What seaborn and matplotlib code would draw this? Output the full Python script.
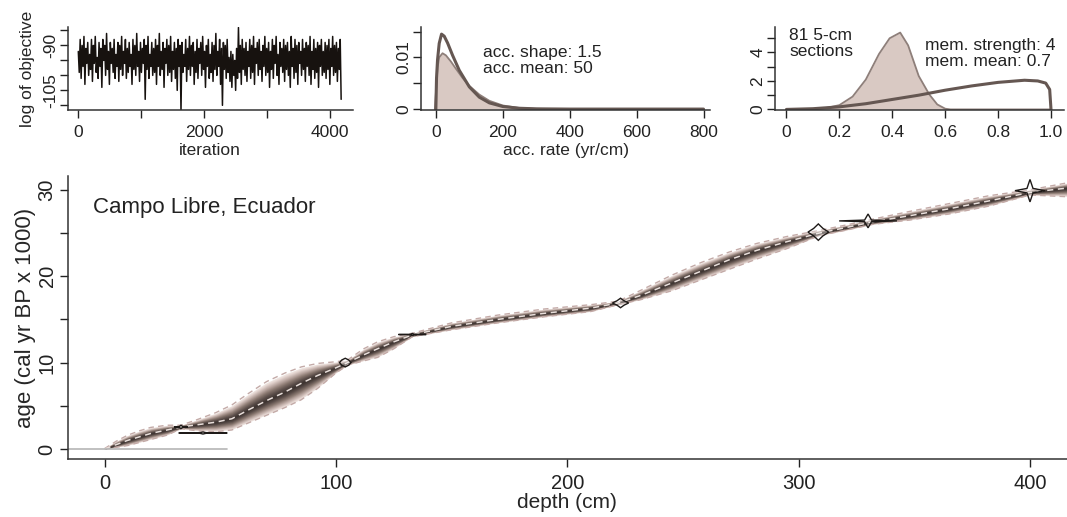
import numpy as np
import pandas as pd
import matplotlib
matplotlib.use("Agg")
import matplotlib.pyplot as plt
from matplotlib.colors import LinearSegmentedColormap
import seaborn as sns

# MCMC trace (log of objective), one value read every 15 iterations
trace_step = 15
trace_vals = [
    -92, -99, -88, -101, -90, -97, -87, -103, -91, -96, -89, -100, -93, -98, -88, -102, -90, -96, -87, -99,
    -94, -101, -89, -97, -91, -104, -88, -95, -90, -100, -86, -98, -92, -103, -89, -96, -91, -99, -88, -101,
    -93, -97, -89, -102, -90, -98, -87, -100, -92, -96, -88, -101, -91, -99, -89, -97, -93, -103, -88, -98,
    -90, -100, -86, -97, -92, -102, -89, -99, -91, -96, -88, -108, -90, -98, -87, -101, -93, -97, -89, -100,
    -91, -99, -88, -103, -90, -97, -86, -100, -92, -98, -89, -104, -91, -96, -88, -100, -90, -99, -87, -102,
    -92, -98, -89, -101, -91, -105, -88, -97, -90, -112, -89, -99, -93, -97, -88, -102, -91, -98, -87, -100,
    -90, -97, -89, -103, -92, -99, -88, -101, -91, -96, -89, -100, -87, -98, -92, -104, -90, -97, -88, -101,
    -93, -99, -89, -102, -90, -98, -86, -100, -92, -97, -88, -103, -91, -110, -89, -98, -90, -101, -88, -99,
    -94, -102, -92, -104, -93, -100, -95, -105, -91, -101, -84, -99, -90, -103, -88, -98, -91, -100, -89, -102,
    -92, -97, -88, -101, -90, -99, -87, -103, -91, -96, -89, -100, -88, -98, -92, -102, -90, -97, -87, -100,
    -91, -99, -89, -104, -92, -98, -88, -101, -90, -96, -87, -100, -93, -103, -89, -97, -91, -99, -88, -102,
    -90, -98, -89, -100, -92, -104, -87, -97, -91, -101, -88, -99, -90, -103, -89, -96, -92, -100, -88, -98,
    -91, -102, -89, -97, -90, -100, -87, -103, -92, -98, -88, -101, -91, -99, -89, -104, -90, -97, -88, -100,
    -92, -99, -89, -101, -90, -98, -88, -103, -91, -97, -87, -100, -90, -99, -89, -102, -91, -98, -88, -108,
]

# accumulation rate: prior (line) and posterior (filled)
acc_x_prior = [0, 2, 5, 10, 17, 25, 35, 50, 70, 100, 130, 160, 200, 250, 300, 400, 600, 800]
acc_prior = [0, 0.0060, 0.0095, 0.0127, 0.0145, 0.0141, 0.0128, 0.0104, 0.0075, 0.0043,
             0.0023, 0.0012, 0.0005, 0.00016, 0.00005, 0, 0, 0]
acc_x_post = [-3, 0, 5, 10, 20, 30, 45, 60, 80, 100, 130, 160, 200, 250, 300, 350]
acc_post = [0, 0.0030, 0.0080, 0.0100, 0.0108, 0.0104, 0.0092, 0.0078, 0.0060, 0.0045,
            0.0028, 0.0016, 0.0007, 0.0002, 0.00005, 0]

# memory: prior (line) and posterior (filled)
mem_x_prior = [0, 0.1, 0.2, 0.3, 0.4, 0.5, 0.6, 0.7, 0.8, 0.9, 0.95, 0.98, 0.995, 1.0]
mem_prior = [0, 0.05, 0.18, 0.4, 0.7, 1.0, 1.35, 1.65, 1.9, 2.05, 2.0, 1.85, 1.4, 0]
mem_x_post = [0.0, 0.1, 0.15, 0.2, 0.25, 0.3, 0.35, 0.39, 0.43, 0.46, 0.5, 0.54, 0.57, 0.6, 0.62, 1.0]
mem_post = [0, 0.02, 0.1, 0.3, 0.9, 2.1, 3.9, 5.0, 5.4, 4.5, 2.35, 1.05, 0.35, 0.05, 0, 0]

# age-depth model: mean and 95% range (cal yr BP x 1000)
depth = [0, 5, 10, 15, 20, 27, 33, 40, 48, 55, 62, 70, 78, 85, 92, 100, 105, 112, 118, 125,
         133, 150, 170, 190, 210, 222, 232, 245, 258, 270, 282, 295, 309, 320, 332, 348, 365,
         382, 400, 416]
age_mean = [0, 0.5, 1.0, 1.4, 1.8, 2.2, 2.55, 2.8, 3.1, 3.5, 4.5, 5.6, 6.6, 7.6, 8.5, 9.4, 10.0,
            10.9, 11.6, 12.4, 13.2, 14.2, 15.0, 15.7, 16.3, 16.9, 17.8, 19.2, 20.6, 21.9, 23.0,
            24.0, 25.0, 25.6, 26.3, 27.0, 27.8, 28.7, 29.7, 30.2]
age_hi = [0.05, 0.9, 1.6, 2.1, 2.5, 2.75, 2.75, 3.4, 4.2, 5.1, 6.4, 7.8, 8.8, 9.5, 9.9, 10.1,
          10.3, 11.6, 12.4, 13.0, 13.4, 14.6, 15.5, 16.2, 16.7, 17.1, 18.4, 20.1, 21.6, 22.8,
          23.8, 24.6, 25.3, 25.9, 26.6, 27.5, 28.4, 29.3, 30.0, 30.8]
age_lo = [0, 0.2, 0.4, 0.75, 1.1, 1.6, 2.35, 2.1, 2.0, 2.2, 3.0, 3.9, 4.8, 5.7, 7.0, 8.8, 9.7,
          10.2, 10.6, 11.6, 13.0, 13.8, 14.6, 15.3, 15.9, 16.7, 17.3, 18.3, 19.6, 20.8, 22.0,
          23.2, 24.7, 25.3, 26.0, 26.5, 27.2, 28.1, 29.4, 29.2]

# dated levels: depth, age, half depth span, half age span
date_depth = [33, 42.5, 104, 133, 223, 308.5, 330, 400]
date_age = [2.55, 1.85, 10.0, 13.25, 16.9, 25.1, 26.4, 29.9]
date_span = [3, 10.5, 2.5, 6, 3.5, 4.5, 12.5, 6.5]
date_err = [0.2, 0.12, 0.5, 0.12, 0.55, 0.95, 0.8, 1.3]
date_pinch = [0.25, 0.15, 0.6, 0.15, 0.45, 0.45, 0.12, 0.2]
surface_line = [-16, 53]

site_name = "Campo Libre, Ecuador"

sns.set_theme(style="ticks")
plt.rcParams["font.family"] = ["Liberation Sans", "DejaVu Sans"]
plt.rcParams["axes.edgecolor"] = "#333333"
plt.rcParams["axes.linewidth"] = 1.1
plt.rcParams["xtick.color"] = "#333333"
plt.rcParams["ytick.color"] = "#333333"

fig = plt.figure(figsize=(10.67, 5.17), dpi=100)
ax1 = fig.add_axes([0.0635, 0.787, 0.267, 0.161])
ax2 = fig.add_axes([0.395, 0.787, 0.270, 0.161])
ax3 = fig.add_axes([0.7264, 0.787, 0.271, 0.161])
ax = fig.add_axes([0.0634, 0.1122, 0.9366, 0.5474])

small = 12.5
big = 16

def r_style(a, fs, xpad, ypad):
    sns.despine(ax=a)
    a.tick_params(length=6, width=1, labelsize=fs, colors="#222222")
    a.tick_params(axis="x", pad=xpad)
    a.tick_params(axis="y", labelrotation=90, pad=ypad)
    for lab in a.get_yticklabels():
        lab.set_va("center")

# trace
trace_df = pd.DataFrame({"iteration": np.arange(len(trace_vals)) * trace_step, "obj": trace_vals})
sns.lineplot(data=trace_df, x="iteration", y="obj", ax=ax1, color="#17120f", lw=1.1)
ax1.set_xlim(-168, 4368)
ax1.set_ylim(-111.6, -83.8)
ax1.set_xticks([0, 1000, 2000, 3000, 4000])
ax1.set_xticklabels(["0", "", "2000", "", "4000"])
ax1.set_yticks([-110, -105, -100, -95, -90, -85])
ax1.set_yticklabels(["", "-105", "", "", "-90", ""])
ax1.set_xlabel("iteration", fontsize=small, labelpad=2)
ax1.set_ylabel("log of objective", fontsize=small, labelpad=6)
r_style(ax1, small, 5, 1)

# acc rate
post_fill = "#d9c9c3"
post_edge = "#8e7f7a"
prior_col = "#655752"
ax2.fill_between(acc_x_post, acc_post, color=post_fill, lw=0)
sns.lineplot(x=acc_x_post, y=acc_post, ax=ax2, color=post_edge, lw=1.3)
sns.lineplot(x=acc_x_prior, y=acc_prior, ax=ax2, color=prior_col, lw=2.2)
ax2.set_xlim(-43, 818)
ax2.set_ylim(-0.0002, 0.0159)
ax2.set_xticks([0, 200, 400, 600, 800])
ax2.set_yticks([0, 0.005, 0.01, 0.015])
ax2.set_yticklabels(["0", "", "0.01", ""])
ax2.set_xlabel("acc. rate (yr/cm)", fontsize=small, labelpad=2)
ax2.text(140, 0.0124, "acc. shape: 1.5\nacc. mean: 50", fontsize=small, va="top",
         linespacing=1.1, color="#222222")
r_style(ax2, small, 5, 1)

# memory
ax3.fill_between(mem_x_post, mem_post, color=post_fill, lw=0)
sns.lineplot(x=mem_x_post, y=mem_post, ax=ax3, color=post_edge, lw=1.3)
sns.lineplot(x=mem_x_prior, y=mem_prior, ax=ax3, color=prior_col, lw=2.2)
ax3.set_xlim(-0.043, 1.05)
ax3.set_ylim(-0.05, 5.8)
ax3.set_xticks([0, 0.2, 0.4, 0.6, 0.8, 1.0])
ax3.set_xticklabels(["0", "0.2", "0.4", "0.6", "0.8", "1.0"])
ax3.set_yticks([0, 1, 2, 3, 4, 5])
ax3.set_yticklabels(["0", "", "2", "", "4", ""])
ax3.text(0.01, 5.75, "81 5-cm\nsections", fontsize=small, va="top", linespacing=1.1,
         color="#222222")
ax3.text(0.525, 5.05, "mem. strength: 4\nmem. mean: 0.7", fontsize=small, va="top",
         linespacing=1.1, color="#222222")
r_style(ax3, small, 5, 1)

# age-depth model, grey-scale bands
d = np.array(depth)
m = np.array(age_mean)
lo = np.array(age_lo)
hi = np.array(age_hi)
cmap = LinearSegmentedColormap.from_list(
    "bacon", ["#f8f2f0", "#e4d5d0", "#bba8a2", "#88776f", "#5a4d49", "#3b322f"])
for f in np.linspace(0.95, 0.03, 34):
    ax.fill_between(d, m - f * (m - lo), m + f * (hi - m), color=cmap((1 - f) ** 0.85), lw=0)
ax.plot(d, lo, color="#c3aaa7", lw=1, ls=(0, (4, 3)))
ax.plot(d, hi, color="#c3aaa7", lw=1, ls=(0, (4, 3)))
sns.lineplot(x=d, y=m, ax=ax, color="#e9dfdb", lw=1.1, ls=(0, (4, 3)))

ax.plot(surface_line, [0, 0], color="#b5b5b5", lw=1.2)

for dd, aa, w, h, p in zip(date_depth, date_age, date_span, date_err, date_pinch):
    xs = [dd - w, dd - w * p, dd, dd + w * p, dd + w, dd + w * p, dd, dd - w * p, dd - w]
    ys = [aa, aa + h * p, aa + h, aa + h * p, aa, aa - h * p, aa - h, aa - h * p, aa]
    ax.fill(xs, ys, facecolor=(1, 1, 1, 0.3), edgecolor="#1e1a18", lw=1.0, zorder=5)

ax.set_xlim(-16, 416)
ax.set_ylim(-1.16, 31.6)
ax.set_xticks([0, 100, 200, 300, 400])
ax.set_yticks([0, 5, 10, 15, 20, 25, 30])
ax.set_yticklabels(["0", "", "10", "", "20", "", "30"])
ax.set_xlabel("depth (cm)", fontsize=15, labelpad=0)
ax.set_ylabel("age (cal yr BP x 1000)", fontsize=big, labelpad=1)
ax.text(-5, 28, site_name, fontsize=big, va="center", color="#222222")
r_style(ax, 14.5, 5, 2)

fig.savefig("out.png", dpi=100)
